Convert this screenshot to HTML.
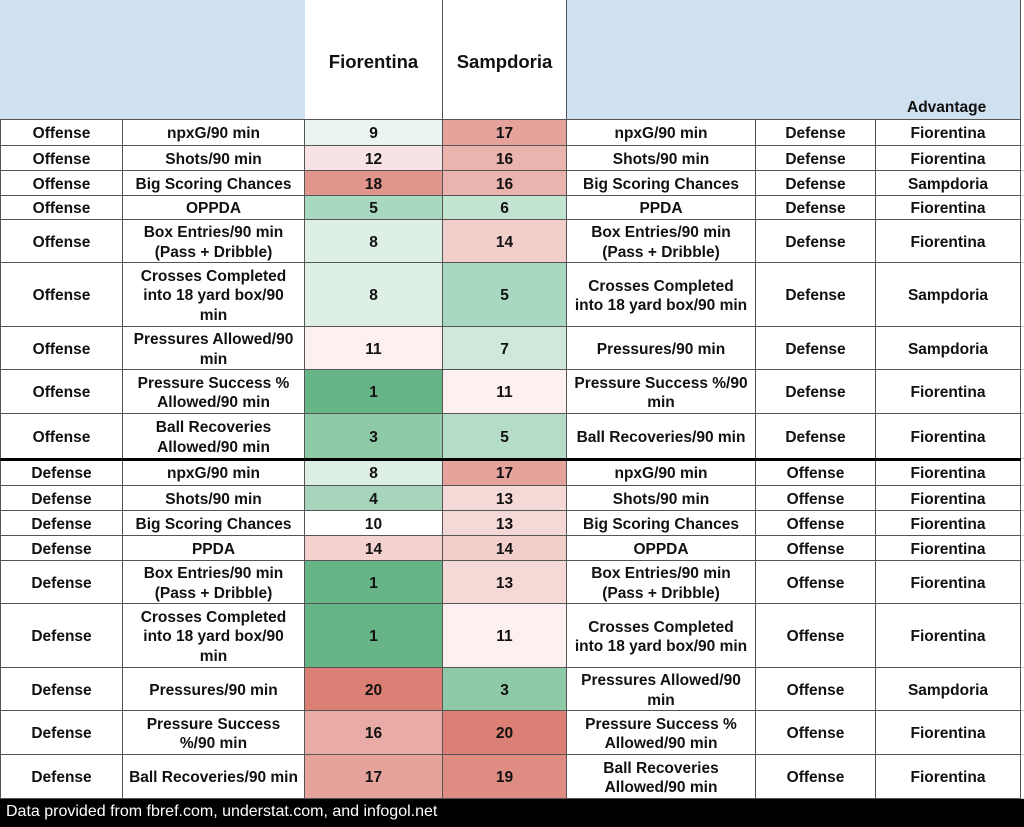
<!DOCTYPE html>
<html><head><style>
body{margin:0;width:1024px;height:827px;background:#fff;position:relative;overflow:hidden;font-family:"Liberation Sans",Arial,sans-serif;font-weight:bold;color:#111}
.c{position:absolute;box-sizing:border-box;border-right:1px solid #555;border-bottom:1px solid #555;display:flex;align-items:center;justify-content:center;text-align:center;font-size:15.5px;line-height:19.5px;padding-top:3px}
.foot{position:absolute;left:0;top:799px;width:1024px;height:28px;background:#000;color:#fff;font-weight:normal;font-size:16px;line-height:26px;padding-left:6px;box-sizing:border-box}
</style></head><body>
<div id="t"></div>
<div class="foot">Data provided from fbref.com, understat.com, and infogol.net</div>
<script>
var X=[0,123,305,443,567,756,876,1021];
var tops=[120,146,171,196,220,263,327,370,414,459,486,511,536,561,604,668,711,755,799];
var rows=[
["Offense","npxG/90 min","9","#eaf5ef","17","#e6a39c","npxG/90 min","Defense","Fiorentina"],
["Offense","Shots/90 min","12","#f7e3e3","16","#ebb3ad","Shots/90 min","Defense","Fiorentina"],
["Offense","Big Scoring Chances","18","#e0958d","16","#ebb3ad","Big Scoring Chances","Defense","Sampdoria"],
["Offense","OPPDA","5","#a9d8c0","6","#c4e4d2","PPDA","Defense","Fiorentina"],
["Offense","Box Entries/90 min<br>(Pass + Dribble)","8","#deefe6","14","#f2cfcb","Box Entries/90 min<br>(Pass + Dribble)","Defense","Fiorentina"],
["Offense","Crosses Completed<br>into 18 yard box/90<br>min","8","#deefe6","5","#a9d8c0","Crosses Completed<br>into 18 yard box/90 min","Defense","Sampdoria"],
["Offense","Pressures Allowed/90<br>min","11","#fcf1f0","7","#cfe8db","Pressures/90 min","Defense","Sampdoria"],
["Offense","Pressure Success %<br>Allowed/90 min","1","#67b587","11","#fcf1f0","Pressure Success %/90<br>min","Defense","Fiorentina"],
["Offense","Ball Recoveries<br>Allowed/90 min","3","#8ecaa8","5","#b4dcc7","Ball Recoveries/90 min","Defense","Fiorentina"],
["Defense","npxG/90 min","8","#ddeee5","17","#e6a39c","npxG/90 min","Offense","Fiorentina"],
["Defense","Shots/90 min","4","#a6d5bc","13","#f5d9d6","Shots/90 min","Offense","Fiorentina"],
["Defense","Big Scoring Chances","10","#ffffff","13","#f5d9d6","Big Scoring Chances","Offense","Fiorentina"],
["Defense","PPDA","14","#f4d2cf","14","#f2cfcb","OPPDA","Offense","Fiorentina"],
["Defense","Box Entries/90 min<br>(Pass + Dribble)","1","#67b587","13","#f5d9d6","Box Entries/90 min<br>(Pass + Dribble)","Offense","Fiorentina"],
["Defense","Crosses Completed<br>into 18 yard box/90<br>min","1","#67b587","11","#fcf1f0","Crosses Completed<br>into 18 yard box/90 min","Offense","Fiorentina"],
["Defense","Pressures/90 min","20","#dc7f74","3","#8ecaa8","Pressures Allowed/90<br>min","Offense","Sampdoria"],
["Defense","Pressure Success<br>%/90 min","16","#e9aba5","20","#dc7f74","Pressure Success %<br>Allowed/90 min","Offense","Fiorentina"],
["Defense","Ball Recoveries/90 min","17","#e6a39c","19","#df8c83","Ball Recoveries<br>Allowed/90 min","Offense","Fiorentina"]];
var h='';
function cell(x0,x1,y0,y1,txt,bg,extra){h+='<div class="c" style="left:'+x0+'px;top:'+y0+'px;width:'+(x1-x0)+'px;height:'+(y1-y0)+'px;background:'+bg+';'+(extra||'')+'">'+txt+'</div>';}
cell(0,305,0,120,'','#cfe0f1','border-right:none');
cell(305,443,0,120,'Fiorentina','#fff','font-size:18.5px;padding-top:4px');
cell(443,567,0,120,'Sampdoria','#fff','font-size:18.5px;padding-top:4px');
cell(567,876,0,120,'','#cfe0f1','border-right:none');
cell(876,1021,0,120,'<span style="position:absolute;bottom:2px;left:31px">Advantage</span>','#cfe0f1');
rows.forEach(function(r,i){
 var y0=tops[i],y1=tops[i+1];
 var txt=[r[0],r[1],r[2],r[4],r[6],r[7],r[8]];
 var bg=['#fff','#fff',r[3],r[5],'#fff','#fff','#fff'];
 for(var k=0;k<7;k++){cell(X[k],X[k+1],y0,y1,txt[k],bg[k],k==0?'border-left:1px solid #555':'');}
 h+='<div style="position:absolute;left:1021px;top:'+(y1-1)+'px;width:3px;height:1px;background:#ccc"></div>';
});
h+='<div style="position:absolute;left:0;top:458px;width:1021px;height:3px;background:#000"></div>';
document.getElementById('t').innerHTML=h;
</script>
</body></html>
